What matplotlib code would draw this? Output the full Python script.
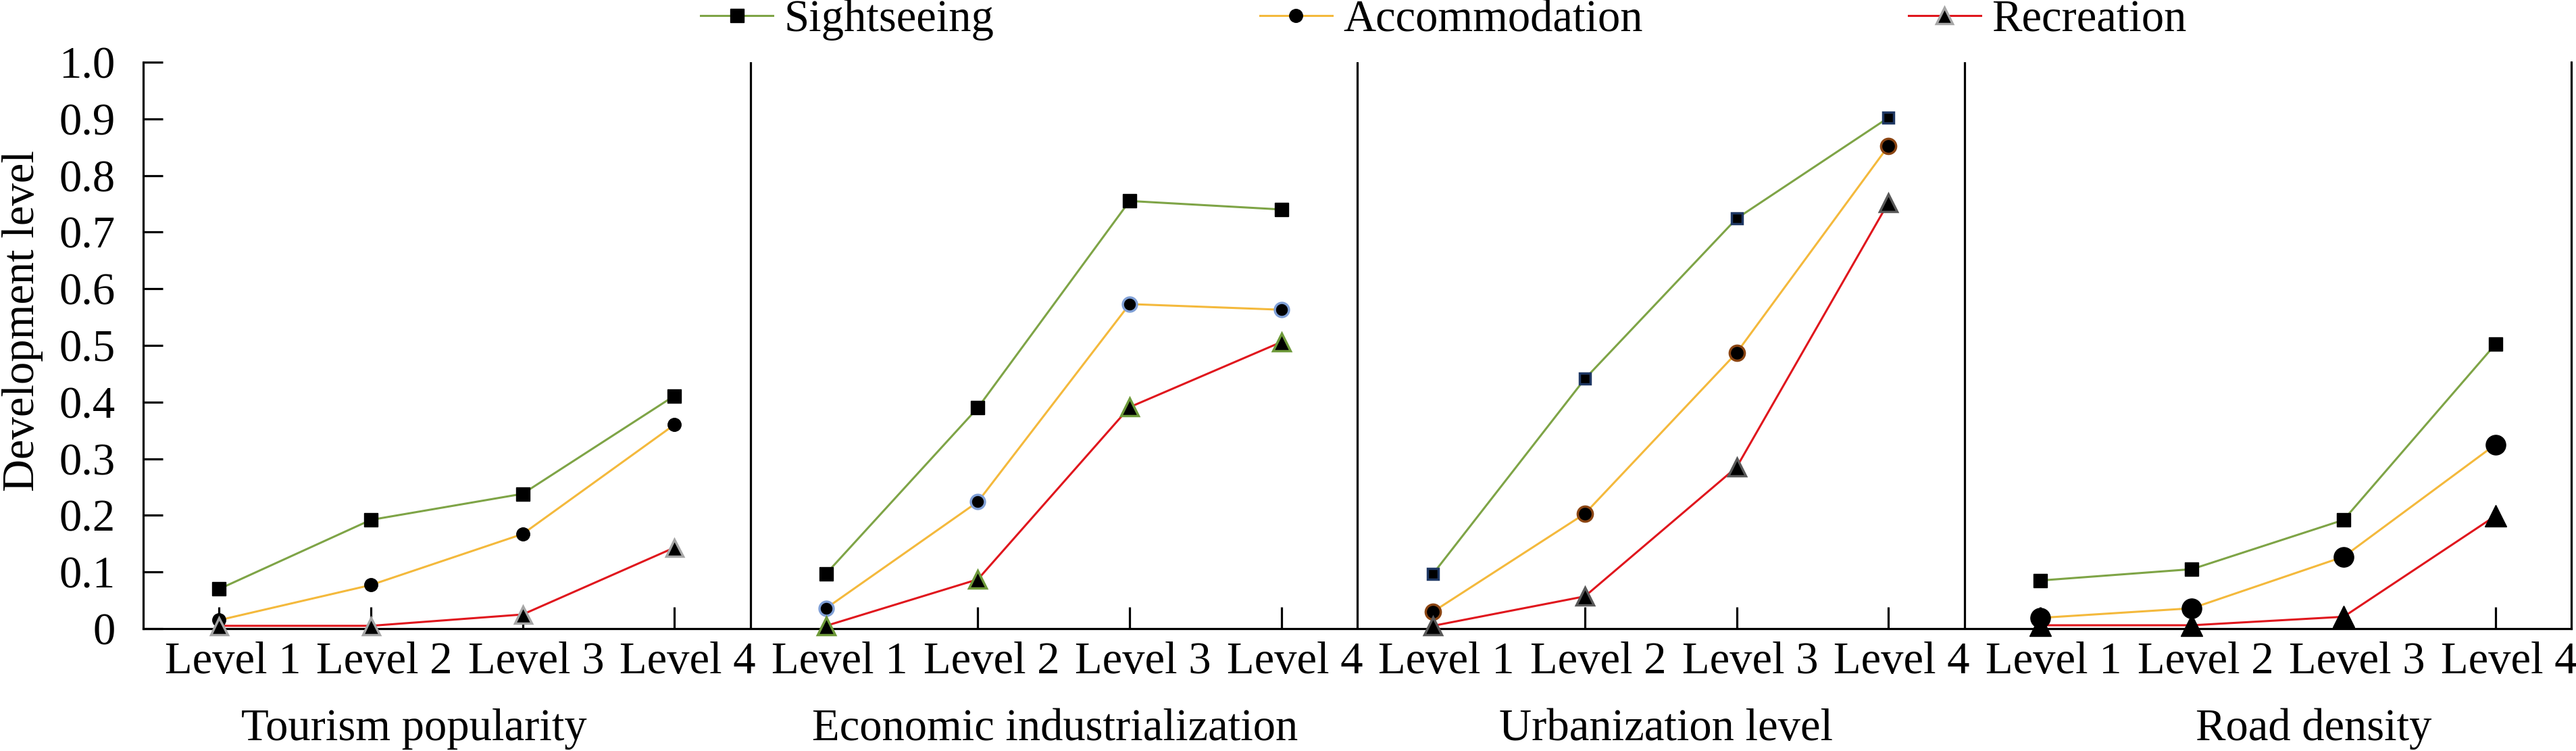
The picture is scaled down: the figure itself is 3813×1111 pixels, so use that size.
import matplotlib.pyplot as plt
import matplotlib.transforms as mtransforms
from matplotlib.lines import Line2D

plt.rcParams['font.family'] = ['Liberation Serif', 'DejaVu Serif']

# data
groups = ['Tourism popularity', 'Economic industrialization', 'Urbanization level', 'Road density']
levels = ['Level 1', 'Level 2', 'Level 3', 'Level 4']
series = ['Sightseeing', 'Accommodation', 'Recreation']

sightseeing = [[0.070, 0.192, 0.238, 0.411],
               [0.097, 0.390, 0.755, 0.740],
               [0.097, 0.441, 0.724, 0.902],
               [0.085, 0.105, 0.192, 0.502]]
accommodation = [[0.015, 0.077, 0.167, 0.360],
                 [0.036, 0.224, 0.573, 0.563],
                 [0.030, 0.203, 0.487, 0.852],
                 [0.019, 0.036, 0.127, 0.325]]
recreation = [[0.005, 0.005, 0.025, 0.143],
              [0.005, 0.087, 0.391, 0.506],
              [0.005, 0.057, 0.285, 0.752],
              [0.006, 0.006, 0.021, 0.199]]
yticks = [0, 0.1, 0.2, 0.3, 0.4, 0.5, 0.6, 0.7, 0.8, 0.9, 1.0]

line_colors = ['#7EA446', '#F4B93C', '#E0161D']

# marker styling per panel: (marker, size, edgecolor, edgewidth)
marker_styles = [
    [('s', 14, 'black', 1), ('o', 14, 'black', 1), ('^', 18, '#A6A6A6', 2.5)],
    [('s', 15, 'black', 1), ('o', 15, '#7F9FD6', 2.5), ('^', 19, '#6E9A3A', 2.5)],
    [('s', 11, '#1F3864', 2.5), ('o', 16, '#8B4513', 2.5), ('^', 19, '#595959', 2.5)],
    [('s', 14, 'black', 1), ('o', 21, 'black', 1), ('^', 23, 'black', 1)],
]

fig = plt.figure(figsize=(38.13, 11.11), dpi=100)
ax = fig.add_axes([212 / 3813, 1 - 930 / 1111, (3806 - 212) / 3813, 838 / 1111])

all_data = [sightseeing, accommodation, recreation]
for g in range(4):
    xs = [g * 4 + i for i in range(4)]
    for s in range(3):
        ax.plot(xs, all_data[s][g], color=line_colors[s], lw=2.2, zorder=2,
                solid_capstyle='butt')
    for s in range(3):
        m, ms, ec, mew = marker_styles[g][s]
        ax.plot(xs, all_data[s][g], ls='none', marker=m, ms=ms, mfc='black',
                mec=ec, mew=mew, zorder=3, clip_on=False)

# dividers between groups
for d in [3.5, 7.5, 11.5]:
    ax.axvline(d, color='black', lw=2.3, zorder=1)

ax.set_xlim(-0.5, 15.5)
ax.set_ylim(0, 1.0)
ax.spines['top'].set_visible(False)
for sp in ['left', 'bottom', 'right']:
    ax.spines[sp].set_linewidth(2.3)

ax.set_yticks(yticks)
ax.set_yticklabels(['0'] + [f'{v:.1f}' for v in yticks[1:]])
ax.set_xticks(range(16))
ax.set_xticklabels(levels * 4)
ax.tick_params(axis='y', direction='in', length=21, width=2.3, labelsize=48, pad=30)
ax.tick_params(axis='x', direction='in', length=23, width=2.3, labelsize=48, pad=14)
ax.tick_params(axis='y', which='both', right=False)

offset = mtransforms.ScaledTranslation(0.2, 0, fig.dpi_scale_trans)
for lab in ax.get_xticklabels():
    lab.set_transform(lab.get_transform() + offset)

ax.set_ylabel('Development level', fontsize=48)
ax.yaxis.set_label_coords(-0.0412, 0.543)

# group titles under each panel
group_x = [613, 1562, 2466, 3425]
for name, gx in zip(groups, group_x):
    fig.text(gx / 3813, 1 - 1095 / 1111, name, ha='center', va='baseline', fontsize=48)

handles = []
for s in range(3):
    m = ['s', 'o', '^'][s]
    ec = ['black', 'black', '#A6A6A6'][s]
    handles.append(Line2D([], [], color=line_colors[s], lw=2.2, marker=m, ms=[14, 14, 17][s],
                          mfc='black', mec=ec, mew=[1, 1, 2.5][s]))
fig.legend(handles, series, loc='center', bbox_to_anchor=(2137 / 3813, 1 - 30 / 1111),
           ncol=3, frameon=False, fontsize=48, handlelength=1.6, handletextpad=0.25,
           columnspacing=5.9, borderpad=0, borderaxespad=0)

fig.savefig('out.png', dpi=100)
